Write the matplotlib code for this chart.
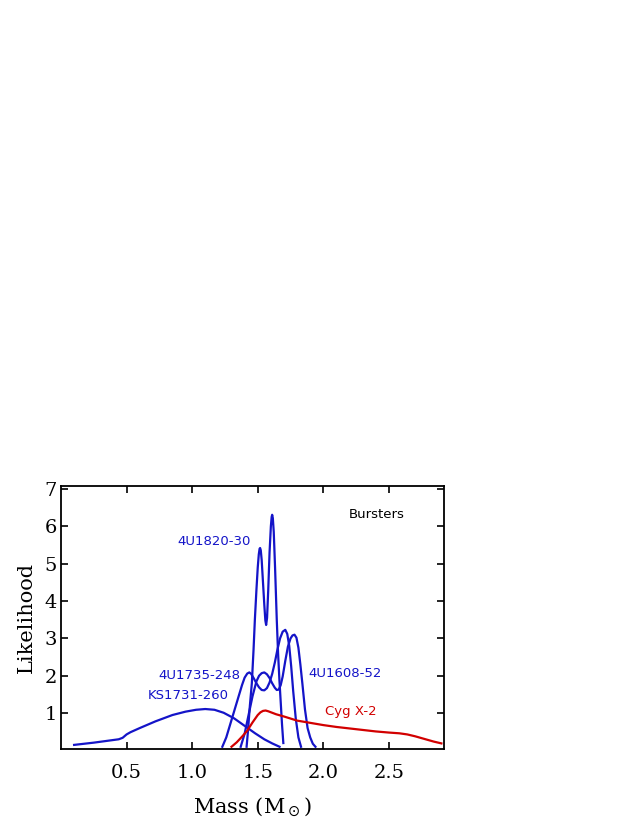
import matplotlib as mpl
mpl.use('Agg')
import matplotlib.pyplot as plt

# mass likelihood curves
ks1731_m = [0.10, 0.25, 0.44, 0.47, 0.50, 0.53, 0.60, 0.72, 0.85, 0.95, 1.03, 1.10, 1.17, 1.24, 1.32,
            1.40, 1.48, 1.55, 1.61, 1.666]
ks1731_l = [0.15, 0.21, 0.30, 0.34, 0.43, 0.49, 0.60, 0.78, 0.95, 1.04, 1.09, 1.11, 1.09, 1.01, 0.86,
            0.66, 0.46, 0.30, 0.19, 0.10]

u1820_m = [1.415, 1.425, 1.44, 1.455, 1.468, 1.478, 1.49, 1.50, 1.508, 1.514, 1.518, 1.523, 1.53, 1.54,
           1.55, 1.558, 1.564, 1.571, 1.58, 1.59, 1.60, 1.606, 1.61, 1.615, 1.622, 1.632, 1.645,
           1.655, 1.665, 1.675, 1.685, 1.695]
u1820_l = [0.10, 0.50, 1.20, 1.80, 2.70, 3.50, 4.30, 4.90, 5.25, 5.40, 5.42, 5.36, 5.10, 4.50,
           3.90, 3.48, 3.36, 3.55, 4.30, 5.30, 6.00, 6.25, 6.31, 6.22, 5.85, 4.90, 3.50,
           2.60, 1.90, 1.30, 0.70, 0.20]

u1735_m = [1.23, 1.26, 1.29, 1.32, 1.35, 1.38, 1.40, 1.42, 1.436, 1.45, 1.47, 1.49, 1.51, 1.53, 1.55,
           1.57, 1.59, 1.61, 1.63, 1.65, 1.67, 1.69, 1.71, 1.725, 1.74, 1.755, 1.77, 1.79, 1.81, 1.83]
u1735_l = [0.10, 0.35, 0.70, 1.05, 1.40, 1.75, 1.95, 2.06, 2.09, 2.05, 1.93, 1.80, 1.69, 1.62, 1.61,
           1.67, 1.82, 2.05, 2.35, 2.70, 3.00, 3.18, 3.23, 3.12, 2.80, 2.25, 1.60, 0.85, 0.35, 0.10]

u1608_m = [1.37, 1.40, 1.43, 1.46, 1.49, 1.51, 1.53, 1.55, 1.57, 1.59, 1.61, 1.63, 1.645, 1.66, 1.675,
           1.69, 1.71, 1.73, 1.75, 1.765, 1.78, 1.795, 1.81, 1.825, 1.84, 1.86, 1.88, 1.90, 1.92, 1.94]
u1608_l = [0.10, 0.45, 0.95, 1.45, 1.85, 2.00, 2.07, 2.09, 2.04, 1.94, 1.80, 1.68, 1.62, 1.63, 1.75,
           1.98, 2.40, 2.78, 3.00, 3.08, 3.10, 3.02, 2.75, 2.30, 1.80, 1.10, 0.60, 0.35, 0.18, 0.10]

cyg_m = [1.30, 1.34, 1.38, 1.42, 1.46, 1.50, 1.52, 1.54, 1.56, 1.58, 1.64, 1.70, 1.80, 1.90, 2.00, 2.10,
         2.20, 2.30, 2.40, 2.50, 2.58, 2.64, 2.70, 2.78, 2.84, 2.90]
cyg_l = [0.10, 0.22, 0.37, 0.53, 0.75, 0.95, 1.02, 1.06, 1.07, 1.05, 0.97, 0.91, 0.80, 0.74, 0.68, 0.63,
         0.59, 0.55, 0.51, 0.48, 0.46, 0.43, 0.38, 0.30, 0.24, 0.19]

x_ticks = [0.5, 1.0, 1.5, 2.0, 2.5]
y_ticks = [1, 2, 3, 4, 5, 6, 7]

blue = '#1414c8'
red = '#d20000'

fig = plt.figure(figsize=(6.38, 8.25), dpi=100)
ax = fig.add_axes([61 / 638, 1 - 749 / 825, 383 / 638, 263 / 825])

for m, l in [(ks1731_m, ks1731_l), (u1820_m, u1820_l), (u1735_m, u1735_l), (u1608_m, u1608_l)]:
    ax.plot(m, l, color=blue, lw=1.6, solid_joinstyle='round')
ax.plot(cyg_m, cyg_l, color=red, lw=1.6, solid_joinstyle='round')

ax.set_xlim(0.0, 2.92)
ax.set_ylim(0.04, 7.08)
ax.set_xticks(x_ticks)
ax.set_xticklabels(['%.1f' % v for v in x_ticks])
ax.set_yticks(y_ticks)
ax.tick_params(direction='in', top=True, right=True, length=5, width=1.2, labelsize=14)
ax.tick_params(axis='x', pad=11)
ax.tick_params(axis='y', pad=3)
for lab in ax.get_xticklabels() + ax.get_yticklabels():
    lab.set_family('DejaVu Serif')
for s in ax.spines.values():
    s.set_linewidth(1.3)

ax.set_xlabel(r'Mass (M$_\odot$)', family='DejaVu Serif', fontsize=15, labelpad=10)
ax.set_ylabel('Likelihood', family='DejaVu Serif', fontsize=15, labelpad=6)

lab_kw = dict(family='DejaVu Sans', fontsize=9.5, va='center', ha='left')
ax.text(0.885, 5.59, '4U1820-30', color=blue, **lab_kw)
ax.text(0.742, 2.02, '4U1735-248', color=blue, **lab_kw)
ax.text(0.658, 1.46, 'KS1731-260', color=blue, **lab_kw)
ax.text(1.883, 2.07, '4U1608-52', color=blue, **lab_kw)
ax.text(2.01, 1.04, 'Cyg X-2', color=red, **lab_kw)
ax.text(2.19, 6.31, 'Bursters', color='black', **lab_kw)

fig.savefig('out.png', dpi=100)
plt.close(fig)
